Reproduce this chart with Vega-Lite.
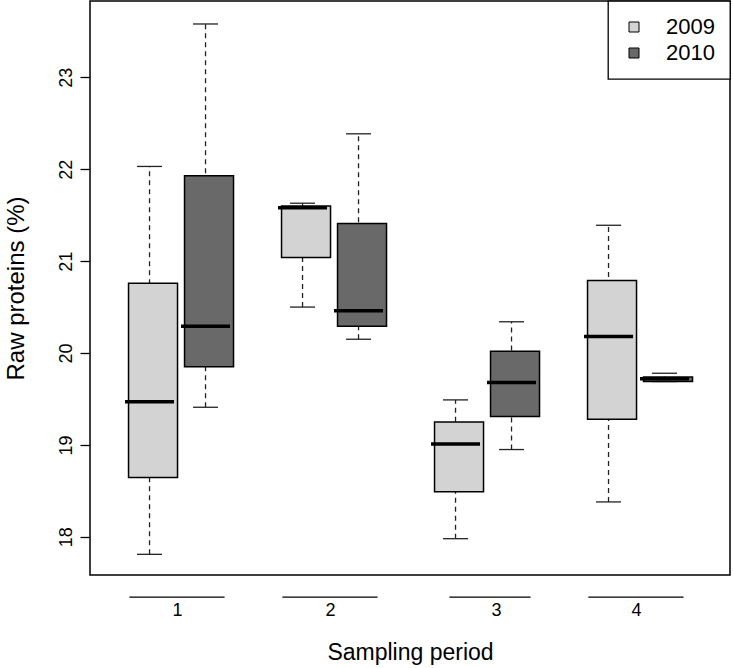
{
  "$schema": "https://vega.github.io/schema/vega-lite/v6.json",
  "width": 640,
  "height": 574,
  "autosize": {"type": "none"},
  "padding": {"left": 90, "top": 1, "right": 3, "bottom": 93},
  "background": "white",
  "config": {
    "font": "Liberation Sans",
    "view": {"stroke": "black", "strokeWidth": 1.5},
    "axis": {"labelColor": "black", "titleColor": "black", "titleFontWeight": "normal", "grid": false, "titleFont": "Liberation Sans", "labelFont": "Liberation Sans"},
    "legend": {"strokeWidth": 1.3},
    "tick": {"opacity": 1}
  },
  "data": {
    "values": [
      {"period": "1", "year": "2009", "lower": 17.81, "q1": 18.645, "median": 19.47, "q3": 20.76, "upper": 22.03},
      {"period": "1", "year": "2010", "lower": 19.41, "q1": 19.85, "median": 20.29, "q3": 21.93, "upper": 23.58},
      {"period": "2", "year": "2009", "lower": 20.50, "q1": 21.04, "median": 21.58, "q3": 21.60, "upper": 21.63},
      {"period": "2", "year": "2010", "lower": 20.15, "q1": 20.29, "median": 20.46, "q3": 21.41, "upper": 22.385},
      {"period": "3", "year": "2009", "lower": 17.98, "q1": 18.49, "median": 19.01, "q3": 19.25, "upper": 19.49},
      {"period": "3", "year": "2010", "lower": 18.95, "q1": 19.31, "median": 19.68, "q3": 20.02, "upper": 20.34},
      {"period": "4", "year": "2009", "lower": 18.38, "q1": 19.28, "median": 20.18, "q3": 20.79, "upper": 21.39},
      {"period": "4", "year": "2010", "lower": 19.69, "q1": 19.69, "median": 19.72, "q3": 19.74, "upper": 19.78}
    ]
  },
  "encoding": {
    "x": {
      "field": "period",
      "type": "nominal",
      "scale": {"domain": ["1", "2", "3", "4"], "paddingInner": 0.268, "paddingOuter": 0.2255, "align": 0.457},
      "axis": {
        "title": "Sampling period",
        "titleFontSize": 23,
        "labelFontSize": 18,
        "labelAngle": 0,
        "ticks": false,
        "tickSize": 0,
        "domain": false,
        "labelPadding": 26,
        "titlePadding": 22,
        "labelOffset": {"condition": {"test": "datum.value == '3'", "value": 13}, "value": 0}
      }
    }
  },
  "layer": [
    {
      "mark": {"type": "rule", "color": "#222222", "strokeWidth": 1.3, "strokeDash": [5, 4]},
      "encoding": {
        "xOffset": {"field": "year", "type": "nominal", "scale": {"paddingInner": 0, "paddingOuter": 0}},
        "y": {
          "field": "lower",
          "type": "quantitative",
          "scale": {"domain": [17.585, 23.83], "nice": false, "zero": false},
          "axis": {
            "values": [18, 19, 20, 21, 22, 23],
            "format": "d",
            "title": "Raw proteins (%)",
            "titleFontSize": 24,
            "labelFontSize": 18,
            "labelAngle": -90,
            "labelAlign": "center",
            "labelBaseline": "bottom",
            "tickSize": 10,
            "tickColor": "black",
            "tickWidth": 1.3,
            "domain": false,
            "labelPadding": 5,
            "titlePadding": 29
          }
        },
        "y2": {"field": "upper"}
      }
    },
    {
      "mark": {"type": "tick", "color": "#222222", "size": 25, "thickness": 1.3, "opacity": 1},
      "encoding": {
        "xOffset": {"field": "year", "type": "nominal"},
        "y": {"field": "lower", "type": "quantitative"}
      }
    },
    {
      "mark": {"type": "tick", "color": "#222222", "size": 25, "thickness": 1.3, "opacity": 1},
      "encoding": {
        "xOffset": {"field": "year", "type": "nominal"},
        "y": {"field": "upper", "type": "quantitative"}
      }
    },
    {
      "mark": {"type": "bar", "stroke": "black", "strokeWidth": 1.5, "width": {"band": 0.875}, "opacity": 1},
      "encoding": {
        "xOffset": {"field": "year", "type": "nominal"},
        "y": {"field": "q1", "type": "quantitative"},
        "y2": {"field": "q3"},
        "fill": {
          "field": "year",
          "type": "nominal",
          "scale": {"domain": ["2009", "2010"], "range": ["#d3d3d3", "#696969"]},
          "legend": {
            "title": null,
            "orient": "top-right",
            "offset": 0,
            "strokeColor": "black",
            "fillColor": "white",
            "padding": 15,
            "symbolType": "square",
            "symbolSize": 100,
            "symbolStrokeColor": "black",
            "symbolStrokeWidth": 1,
            "symbolOpacity": 1,
            "symbolOffset": 0,
            "labelOffset": 21,
            "labelFontSize": 22,
            "labelColor": "black",
            "rowPadding": 4
          }
        }
      }
    },
    {
      "mark": {"type": "tick", "color": "black", "size": 49, "thickness": 3.5, "opacity": 1},
      "encoding": {
        "xOffset": {"field": "year", "type": "nominal"},
        "y": {"field": "median", "type": "quantitative"}
      }
    },
    {
      "data": {"values": [{"period": "1"}, {"period": "2"}, {"period": "3"}, {"period": "4"}]},
      "mark": {"type": "rule", "clip": false, "color": "black", "strokeWidth": 1.3, "xOffset": {"expr": "datum.period == '3' ? 14 : 0"}},
      "encoding": {
        "x": {"field": "period", "type": "nominal", "bandPosition": 0.07},
        "x2": {"field": "period", "bandPosition": 0.92},
        "y": {"datum": 17.345}
      }
    }
  ]
}
